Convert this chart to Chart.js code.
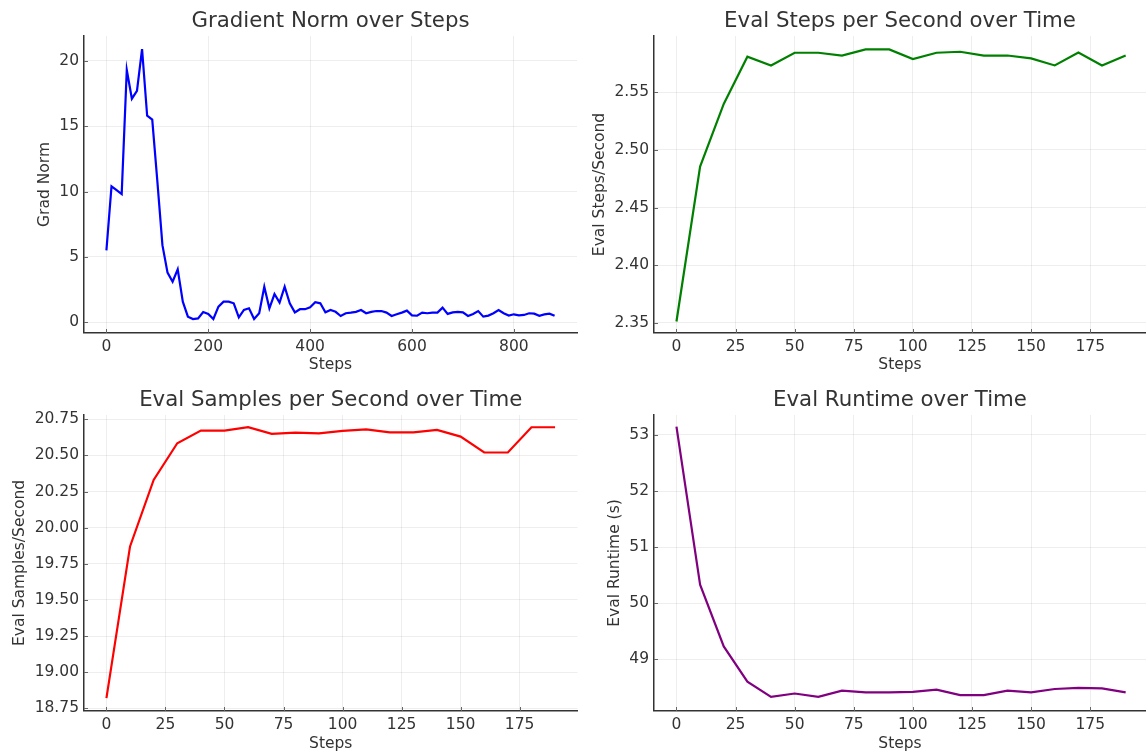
<!DOCTYPE html>
<html>
<head>
<meta charset="utf-8">
<script src="https://cdn.jsdelivr.net/npm/chart.js@4.4.1/dist/chart.umd.min.js"></script>
<style>
  html, body { margin: 0; padding: 0; background: #fff; }
  #wrap { position: relative; width: 1146px; height: 753px; overflow: hidden; }
  canvas { position: absolute; }
</style>
</head>
<body>
<div id="wrap">
  <canvas id="gradChart" width="580" height="376" style="left:0;top:0"></canvas>
  <canvas id="stepsChart" width="566" height="376" style="left:580px;top:0"></canvas>
  <canvas id="samplesChart" width="580" height="377" style="left:0;top:376px"></canvas>
  <canvas id="runtimeChart" width="566" height="377" style="left:580px;top:376px"></canvas>
</div>
<script>
const FONT = "DejaVu Sans";
const TEXT = "#333333";

// Gradient norm, logged every 10 steps
const gradSteps = [
    0, 10, 20, 30, 40, 50, 60, 70, 80, 90,
    100, 110, 120, 130, 140, 150, 160, 170, 180, 190,
    200, 210, 220, 230, 240, 250, 260, 270, 280, 290,
    300, 310, 320, 330, 340, 350, 360, 370, 380, 390,
    400, 410, 420, 430, 440, 450, 460, 470, 480, 490,
    500, 510, 520, 530, 540, 550, 560, 570, 580, 590,
    600, 610, 620, 630, 640, 650, 660, 670, 680, 690,
    700, 710, 720, 730, 740, 750, 760, 770, 780, 790,
    800, 810, 820, 830, 840, 850, 860, 870, 880
];
const gradNorm = [
    5.5, 10.4, 10.1, 9.8, 19.3, 17.1, 17.7, 20.9, 15.8, 15.5,
    10.8, 5.9, 3.8, 3.1, 4.05, 1.58, 0.43, 0.25, 0.3, 0.79,
    0.64, 0.25, 1.2, 1.58, 1.58, 1.45, 0.38, 0.94, 1.07, 0.25,
    0.69, 2.72, 1.07, 2.16, 1.5, 2.72, 1.45, 0.76, 1.0, 1.0,
    1.15, 1.53, 1.45, 0.76, 0.94, 0.8, 0.48, 0.69, 0.74, 0.8,
    0.94, 0.69, 0.8, 0.86, 0.86, 0.74, 0.48, 0.61, 0.74, 0.89,
    0.53, 0.5, 0.74, 0.69, 0.74, 0.74, 1.12, 0.64, 0.76, 0.8,
    0.76, 0.48, 0.64, 0.86, 0.43, 0.51, 0.69, 0.94, 0.69, 0.51,
    0.61, 0.53, 0.56, 0.69, 0.66, 0.5, 0.6, 0.66, 0.5
];

// Evaluation metrics, every 10 steps
const evalSteps = [0, 10, 20, 30, 40, 50, 60, 70, 80, 90, 100, 110, 120, 130, 140, 150, 160, 170, 180, 190];
const evalStepsPerSec = [2.351, 2.4855, 2.540, 2.581, 2.5734, 2.5844, 2.5844, 2.582, 2.5873, 2.5873, 2.579, 2.5844, 2.5853, 2.582, 2.582, 2.5795, 2.5734, 2.5847, 2.5734, 2.582];
const evalSamplesPerSec = [18.82, 19.87, 20.33, 20.584, 20.672, 20.672, 20.695, 20.649, 20.658, 20.653, 20.67, 20.68, 20.66, 20.66, 20.676, 20.63, 20.52, 20.52, 20.695, 20.695];
const evalRuntime = [53.15, 50.33, 49.23, 48.6, 48.33, 48.39, 48.33, 48.44, 48.41, 48.41, 48.42, 48.46, 48.36, 48.36, 48.44, 48.41, 48.47, 48.49, 48.48, 48.41];

// Tick labels
const gradXTicks = [0, 200, 400, 600, 800];
const gradYTicks = [0, 5, 10, 15, 20];
const evalXTicks = [0, 25, 50, 75, 100, 125, 150, 175];
const stepsYTicks = [2.35, 2.40, 2.45, 2.50, 2.55];
const samplesYTicks = [18.75, 19.00, 19.25, 19.50, 19.75, 20.00, 20.25, 20.50, 20.75];
const runtimeYTicks = [49, 50, 51, 52, 53];

// small tick marks drawn inside the axes, like the original figure
const innerTicks = {
    id: "innerTicks",
    afterDraw(chart) {
        const { ctx, chartArea } = chart;
        const xs = chart.scales.x;
        const ys = chart.scales.y;
        ctx.save();
        ctx.strokeStyle = "#666666";
        ctx.lineWidth = 1;
        ctx.beginPath();
        xs.ticks.forEach((t) => {
            const px = Math.round(xs.getPixelForValue(t.value)) + 0.5;
            ctx.moveTo(px, chartArea.bottom);
            ctx.lineTo(px, chartArea.bottom - 4);
        });
        ys.ticks.forEach((t) => {
            const py = Math.round(ys.getPixelForValue(t.value)) + 0.5;
            ctx.moveTo(chartArea.left, py);
            ctx.lineTo(chartArea.left + 4, py);
        });
        ctx.stroke();
        ctx.restore();
    }
};

function crearPanel(id, cfg) {
    const ctx = document.getElementById(id);
    const gridOpts = { color: "rgba(0,0,0,0.065)", lineWidth: 1, drawTicks: false };
    const borderOpts = { display: true, color: "#333333", width: 1.5 };
    return new Chart(ctx, {
        type: "line",
        plugins: [innerTicks],
        data: {
            datasets: [{
                data: cfg.x.map((x, i) => ({ x: x, y: cfg.y[i] })),
                borderColor: cfg.color,
                borderWidth: 2.2,
                pointRadius: 0,
                tension: 0,
                fill: false
            }]
        },
        options: {
            responsive: false,
            animation: false,
            layout: { padding: { left: 0, right: cfg.padRight, top: 0, bottom: 0 } },
            plugins: {
                legend: { display: false },
                tooltip: { enabled: false },
                title: {
                    display: true,
                    text: cfg.title,
                    fullSize: false,
                    color: TEXT,
                    font: { family: FONT, size: 21.3, weight: "normal" },
                    padding: { top: cfg.titleTop, bottom: 2 }
                }
            },
            scales: {
                x: {
                    type: "linear",
                    min: cfg.xMin,
                    max: cfg.xMax,
                    afterBuildTicks: (s) => { s.ticks = cfg.xTicks.map((v) => ({ value: v })); },
                    afterFit: (s) => { s.height = cfg.xHeight; },
                    ticks: { color: TEXT, font: { family: FONT, size: 15.5 }, padding: 5, maxRotation: 0, callback: (v) => String(v) },
                    grid: gridOpts,
                    border: borderOpts,
                    title: { display: true, text: "Steps", color: TEXT, font: { family: FONT, size: 15.5 }, padding: { top: 0, bottom: cfg.xTitlePad } }
                },
                y: {
                    min: cfg.yMin,
                    max: cfg.yMax,
                    afterBuildTicks: (s) => { s.ticks = cfg.yTicks.map((v) => ({ value: v })); },
                    afterFit: (s) => { s.width = cfg.yWidth; },
                    ticks: { color: TEXT, font: { family: FONT, size: 15.5 }, padding: 5, callback: (v) => v.toFixed(cfg.decimals) },
                    grid: gridOpts,
                    border: borderOpts,
                    title: { display: true, text: cfg.yLabel, color: TEXT, font: { family: FONT, size: 15.5 }, padding: { top: cfg.yTitlePad, bottom: 0 } }
                }
            }
        }
    });
}

crearPanel("gradChart", {
    x: gradSteps, y: gradNorm, color: "#0000ff",
    title: "Gradient Norm over Steps", yLabel: "Grad Norm",
    xMin: -44, xMax: 924, yMin: -0.82, yMax: 21.9,
    xTicks: gradXTicks, yTicks: gradYTicks, decimals: 0,
    yWidth: 84, xHeight: 43, padRight: 3, titleTop: 8.4, yTitlePad: 35.3, xTitlePad: 1.4
});

crearPanel("stepsChart", {
    x: evalSteps, y: evalStepsPerSec, color: "#008000",
    title: "Eval Steps per Second over Time", yLabel: "Eval Steps/Second",
    xMin: -9.5, xMax: 198.6, yMin: 2.341, yMax: 2.599,
    xTicks: evalXTicks, yTicks: stepsYTicks, decimals: 2,
    yWidth: 74, xHeight: 43, padRight: 0, titleTop: 8.4, yTitlePad: 10.2, xTitlePad: 1.4
});

crearPanel("samplesChart", {
    x: evalSteps, y: evalSamplesPerSec, color: "#ff0000",
    title: "Eval Samples per Second over Time", yLabel: "Eval Samples/Second",
    xMin: -9.5, xMax: 199.5, yMin: 18.731, yMax: 20.78,
    xTicks: evalXTicks, yTicks: samplesYTicks, decimals: 2,
    yWidth: 84, xHeight: 42, padRight: 2.5, titleTop: 11.4, yTitlePad: 10.5, xTitlePad: 0
});

crearPanel("runtimeChart", {
    x: evalSteps, y: evalRuntime, color: "#800080",
    title: "Eval Runtime over Time", yLabel: "Eval Runtime (s)",
    xMin: -9.5, xMax: 198.6, yMin: 48.078, yMax: 53.357,
    xTicks: evalXTicks, yTicks: runtimeYTicks, decimals: 0,
    yWidth: 74, xHeight: 42, padRight: 0, titleTop: 11.4, yTitlePad: 25.3, xTitlePad: 0
});
</script>
</body>
</html>
